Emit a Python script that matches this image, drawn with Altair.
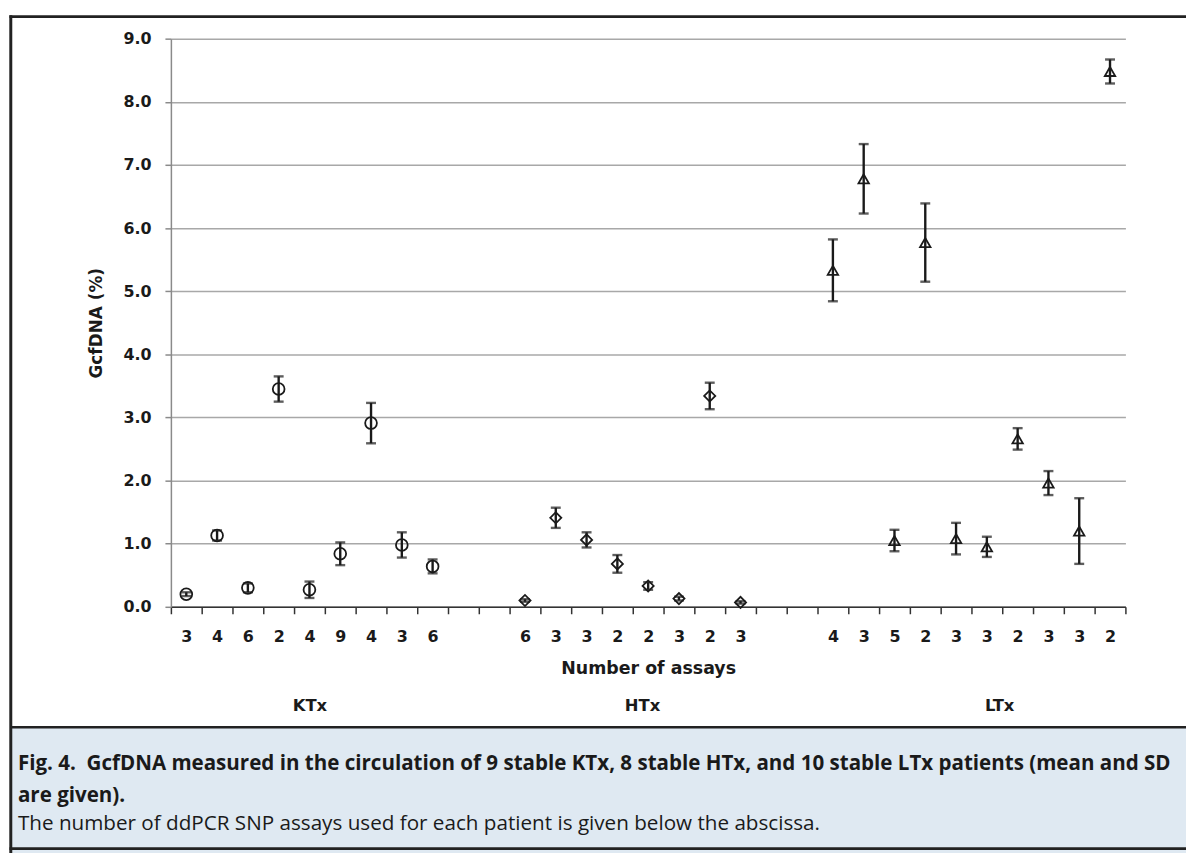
import altair as alt
import pandas as pd

# ---------------- data ----------------
groups = ["KTx", "HTx", "LTx"]
group_slots = {
    "KTx": [0, 1, 2, 3, 4, 5, 6, 7, 8],
    "HTx": [11, 12, 13, 14, 15, 16, 17, 18],
    "LTx": [21, 22, 23, 24, 25, 26, 27, 28, 29, 30],
}
ktx_mean = [0.20, 1.13, 0.30, 3.45, 0.27, 0.84, 2.91, 0.98, 0.64]
ktx_sd = [0.03, 0.08, 0.07, 0.20, 0.13, 0.18, 0.32, 0.20, 0.11]
ktx_assays = [3, 4, 6, 2, 4, 9, 4, 3, 6]

htx_mean = [0.10, 1.41, 1.06, 0.68, 0.33, 0.13, 3.34, 0.07]
htx_sd = [0.02, 0.16, 0.12, 0.14, 0.06, 0.03, 0.21, 0.02]
htx_assays = [6, 3, 3, 2, 2, 3, 2, 3]

ltx_mean = [5.33, 6.78, 1.05, 5.77, 1.08, 0.95, 2.66, 1.96, 1.20, 8.48]
ltx_sd = [0.49, 0.55, 0.17, 0.62, 0.25, 0.16, 0.17, 0.19, 0.52, 0.19]
ltx_assays = [4, 3, 5, 2, 3, 3, 2, 3, 3, 2]

group_label_pos = [4, 14.8, 26.4]
y_ticks = [0, 1, 2, 3, 4, 5, 6, 7, 8, 9]
n_slots = 31

caption_1 = "Fig. 4.\u00a0 GcfDNA measured in the circulation of 9 stable KTx, 8 stable HTx, and 10 stable LTx patients (mean and SD"
caption_2 = "are given)."
caption_3 = "The number of ddPCR SNP assays used for each patient is given below the abscissa."

# ---------------- table ----------------
rows = []
for g, means, sds, ns in [
    ("KTx", ktx_mean, ktx_sd, ktx_assays),
    ("HTx", htx_mean, htx_sd, htx_assays),
    ("LTx", ltx_mean, ltx_sd, ltx_assays),
]:
    for s, m, sd, a in zip(group_slots[g], means, sds, ns):
        rows.append(dict(group=g, slot=s, mean=m, sd=sd, lo=m - sd, hi=m + sd, assays=str(a)))
df = pd.DataFrame(rows)

label_arr = [""] * n_slots
for s, a in zip(df["slot"], df["assays"]):
    label_arr[s] = a
label_expr = "[" + ",".join("'%s'" % v for v in label_arr) + "][datum.value]"
group_expr = "datum.value < 10 ? '%s' : (datum.value < 20 ? '%s' : '%s')" % tuple(groups)

INK = "#1a1a1a"
FONT = "DejaVu Sans"
CAPFONT = "Open Sans"

xscale = alt.Scale(domain=[-0.5, n_slots - 0.5], nice=False, zero=False)
yscale = alt.Scale(domain=[0, 9], nice=False, zero=True)

base = alt.Chart(df)

tick_axis = alt.Axis(
    orient="bottom", values=[i - 0.5 for i in range(n_slots + 1)], labels=False,
    ticks=True, tickSize=7, tickColor="#333333", tickWidth=1.5,
    domain=True, domainColor="#333333", domainWidth=1.5, grid=False, title=None,
)
label_axis = alt.Axis(
    orient="bottom", values=list(df["slot"]), labelExpr=label_expr, ticks=False,
    domain=False, grid=False, labelPadding=22, labelFont=FONT, labelFontWeight="bold",
    labelFontSize=16, labelColor=INK, labelFlush=False, labelOverlap=False,
    title="Number of assays", titleFont=FONT, titleFontWeight="bold", titleFontSize=17.5,
    titleColor=INK, titlePadding=15,
)
group_axis = alt.Axis(
    orient="bottom", values=group_label_pos, labelExpr=group_expr, ticks=False,
    domain=False, grid=False, labelPadding=91, labelFont=FONT, labelFontWeight="bold",
    labelFontSize=16.5, labelColor=INK, labelFlush=False, labelOverlap=False, title=None,
)
y_axis = alt.Axis(
    orient="left", values=y_ticks, format=".1f", grid=True, gridColor="#a8a8a8", gridWidth=1.5,
    domainColor="#8a8a8a", domainWidth=1.5, tickColor="#8a8a8a", tickWidth=1.5,
    tickSize=6, labelPadding=14, labelFont=FONT, labelFontWeight="bold",
    labelFontSize=16, labelColor=INK, title="GcfDNA (%)", titleFont=FONT,
    titleFontSize=17, titleFontWeight="bold", titleColor=INK, titlePadding=18,
)

rules = base.mark_rule(color=INK, strokeWidth=2.4).encode(
    x=alt.X("slot:Q", scale=xscale, axis=tick_axis),
    y=alt.Y("lo:Q", scale=yscale, axis=y_axis),
    y2="hi:Q",
)
cap_lo = base.mark_tick(orient="horizontal", color=INK, size=10, thickness=2.4).encode(
    x=alt.X("slot:Q", scale=xscale, axis=None),
    y=alt.Y("lo:Q", scale=yscale, axis=None),
)
cap_hi = base.mark_tick(orient="horizontal", color=INK, size=10, thickness=2.4).encode(
    x=alt.X("slot:Q", scale=xscale, axis=None),
    y=alt.Y("hi:Q", scale=yscale, axis=None),
)
points = base.mark_point(filled=False, color=INK, strokeWidth=1.8, opacity=1).encode(
    x=alt.X("slot:Q", scale=xscale, axis=label_axis),
    y=alt.Y("mean:Q", scale=yscale, axis=None),
    shape=alt.Shape("group:N", scale=alt.Scale(domain=groups, range=["circle", "diamond", "triangle-up"]), legend=None),
    size=alt.Size("group:N", scale=alt.Scale(domain=groups, range=[140, 110, 150]), legend=None),
)
grp = base.mark_point(opacity=0).encode(
    x=alt.X("slot:Q", scale=xscale, axis=group_axis),
    y=alt.Y("mean:Q", scale=yscale, axis=None),
)

# ---------------- figure frame and caption (decoration) ----------------
one = alt.Chart(pd.DataFrame({"a": [0]}))
cap_bg = one.mark_rect(color="#dfe9f2").encode(
    x=alt.value(-160), x2=alt.value(1030), y=alt.value(694), y2=alt.value(820)
)
frame_top = one.mark_rule(color="#222222", strokeWidth=2.6).encode(
    x=alt.value(-162.5), x2=alt.value(1030), y=alt.value(-22.2)
)
frame_left = one.mark_rule(color="#222222", strokeWidth=3).encode(
    x=alt.value(-161.2), y=alt.value(-23.5), y2=alt.value(820)
)
separator = one.mark_rule(color="#222222", strokeWidth=2.6).encode(
    x=alt.value(-161), x2=alt.value(1030), y=alt.value(693.3)
)
frame_bottom = one.mark_rule(color="#222222", strokeWidth=2.6).encode(
    x=alt.value(-162.5), x2=alt.value(1030), y=alt.value(815.5)
)
t1 = one.mark_text(text=caption_1, font=CAPFONT, fontSize=20.7, fontWeight="bold", color=INK,
                   align="left", baseline="middle").encode(x=alt.value(-154), y=alt.value(730))
t2 = one.mark_text(text=caption_2, font=CAPFONT, fontSize=20.7, fontWeight="bold", color=INK,
                   align="left", baseline="middle").encode(x=alt.value(-154), y=alt.value(763))
t3 = one.mark_text(text=caption_3, font=CAPFONT, fontSize=20.8, color=INK,
                   align="left", baseline="middle").encode(x=alt.value(-154), y=alt.value(791))

chart = (
    alt.layer(cap_bg, frame_top, frame_left, separator, frame_bottom,
              rules, cap_lo, cap_hi, points, grp, t1, t2, t3)
    .resolve_axis(x="independent", y="independent")
    .properties(
        width=961, height=572,
        autosize=alt.AutoSizeParams(type="none"),
        padding={"left": 164, "top": 28, "right": 61, "bottom": 245},
        background="white",
    )
    .configure_view(stroke=None)
)

chart.save("out.html", embed_options={"renderer": "svg", "actions": False})
